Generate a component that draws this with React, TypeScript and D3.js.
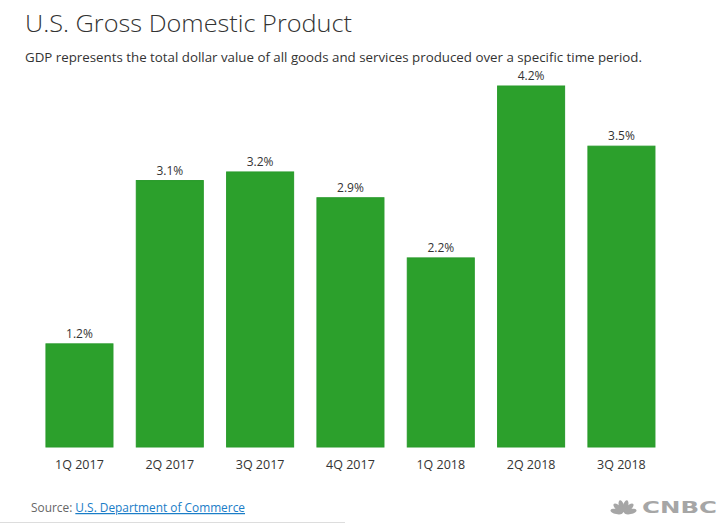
import React from "react";
import * as d3 from "d3";

const categories = ["1Q 2017", "2Q 2017", "3Q 2017", "4Q 2017", "1Q 2018", "2Q 2018", "3Q 2018"];
const values = [1.2, 3.1, 3.2, 2.9, 2.2, 4.2, 3.5];

const W = 727;
const H = 525;
const FONT = "'Open Sans', 'Noto Sans', sans-serif";

export default function App() {
  const x = d3
    .scaleBand<string>()
    .domain(categories)
    .range([34.3, 666.6])
    .paddingInner(0.258)
    .paddingOuter(0.129);
  const y = d3.scaleLinear().domain([0, 4.2]).range([447, 86]);

  const feathers = [-78, -47, -16, 16, 47, 78];

  return (
    <svg
      width={W}
      height={H}
      style={{ position: "absolute", left: 0, top: 0, background: "#fff" }}
      fontFamily={FONT}
    >
      <rect width={W} height={H} fill="#fff" />
      <text x={25} y={32} fontSize={24.5} fill="#333" fontWeight={300} textLength={327} lengthAdjust="spacingAndGlyphs">
        U.S. Gross Domestic Product
      </text>
      <text x={25} y={62} fontSize={13.2} fill="#333" textLength={617} lengthAdjust="spacingAndGlyphs">
        GDP represents the total dollar value of all goods and services produced over a specific time period.
      </text>
      {categories.map((c, i) => (
        <g key={c}>
          <rect
            x={x(c)!}
            y={y(values[i])}
            width={x.bandwidth()}
            height={y(0) - y(values[i])}
            fill="#2ca02c"
            stroke="#289a2a"
            strokeWidth={1}
          />
          <text
            x={x(c)! + x.bandwidth() / 2}
            y={y(values[i]) - 6}
            textAnchor="middle"
            fontSize={12}
            fill="#333"
          >
            {values[i].toFixed(1)}%
          </text>
          <text
            x={x(c)! + x.bandwidth() / 2}
            y={469}
            textAnchor="middle"
            fontSize={12.5}
            fill="#333"
          >
            {c}
          </text>
        </g>
      ))}
      <text x={31} y={512} fontSize={12.3} fill="#666" textLength={214} lengthAdjust="spacingAndGlyphs">
        Source:{" "}
        <tspan fill="#1a7dc7" textDecoration="underline">
          U.S. Department of Commerce
        </tspan>
      </text>
      <line x1={0} x2={345} y1={522.5} y2={522.5} stroke="#ddd" strokeWidth={1} />
      <g transform="translate(623.5,513)">
        {feathers.map((a, i) => (
          <ellipse
            key={i}
            cx={0}
            cy={-7}
            rx={2.6}
            ry={6.3}
            fill="#a6a6a6"
            transform={`rotate(${a})`}
          />
        ))}
      </g>
      <text
        x={642}
        y={513}
        fontSize={16.5}
        fontWeight={700}
        fill="#a6a6a6"
        fontFamily="'DejaVu Sans', 'Liberation Sans', sans-serif"
        textLength={75}
        lengthAdjust="spacingAndGlyphs"
      >
        CNBC
      </text>
    </svg>
  );
}
